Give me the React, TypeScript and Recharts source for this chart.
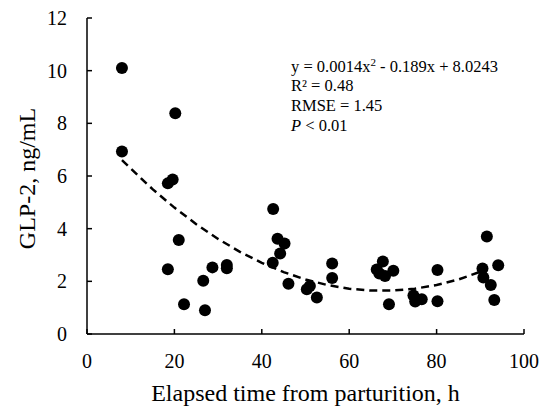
import { Scatter, ScatterChart, XAxis, YAxis } from "recharts";

const serif = '"Liberation Serif", "Times New Roman", serif';

// measured GLP-2 concentrations
const elapsedHours = [
  8.0, 20.2, 8.0, 18.5, 19.6, 42.6, 21.0, 18.5, 22.2, 26.6, 27.0, 28.7, 32.0, 32.0,
  42.5, 43.6, 45.2, 44.2, 46.1, 50.3, 51.0, 52.6, 56.1, 56.1, 67.7, 66.3, 66.9, 68.2,
  70.1, 69.1, 74.7, 75.1, 76.6, 80.2, 80.2, 91.5, 90.5, 90.7, 92.4, 94.1, 93.2,
];
const glp2 = [
  10.1, 8.38, 6.93, 5.72, 5.87, 4.75, 3.57, 2.46, 1.13, 2.02, 0.9, 2.53, 2.62, 2.5,
  2.71, 3.62, 3.44, 3.06, 1.91, 1.7, 1.82, 1.39, 2.68, 2.13, 2.75, 2.45, 2.3, 2.2,
  2.4, 1.13, 1.46, 1.23, 1.32, 2.43, 1.24, 3.7, 2.49, 2.15, 1.86, 2.61, 1.29,
];

// quadratic fit
const fitHours = [8, 15, 20, 25, 30, 35, 40, 45, 50, 55, 60, 65, 70, 75, 80, 85, 91];
const fitValues = [6.6, 5.5, 4.8, 4.17, 3.61, 3.12, 2.7, 2.35, 2.07, 1.86, 1.72, 1.65, 1.65, 1.72, 1.86, 2.07, 2.42];

const xTicks = [0, 20, 40, 60, 80, 100];
const yTicks = [0, 2, 4, 6, 8, 10, 12];

const points = elapsedHours.map((x, i) => ({ x, y: glp2[i] }));
const fit = fitHours.map((x, i) => ({ x, y: fitValues[i] }));

function Dot(props: any) {
  return <circle cx={props.cx} cy={props.cy} r={6} fill="#000" />;
}

function XTick({ x, y, payload }: any) {
  return (
    <text x={x} y={y + 14} textAnchor="middle" fontSize={20} fontFamily={serif} fill="#000">
      {payload.value}
    </text>
  );
}

function YTick({ x, y, payload }: any) {
  return (
    <text x={x} y={y + 7} textAnchor="end" fontSize={20} fontFamily={serif} fill="#000">
      {payload.value}
    </text>
  );
}

function App() {
  return (
    <div style={{ position: "absolute", left: 0, top: 0, width: 549, height: 408, background: "#fff" }}>
      <ScatterChart width={549} height={408} margin={{ top: 18, right: 25, bottom: 0, left: 0 }}>
        <XAxis
          type="number"
          dataKey="x"
          domain={[0, 100]}
          ticks={xTicks}
          height={74}
          tick={<XTick />}
          tickSize={-5}
          tickMargin={25}
          axisLine={{ stroke: "#000", strokeWidth: 1.5 }}
          tickLine={{ stroke: "#000", strokeWidth: 1.5 }}
          label={() => (
            <text x={305.5} y={401} textAnchor="middle" fontSize={24} fontFamily={serif} fill="#000">
              Elapsed time from parturition, h
            </text>
          )}
        />
        <YAxis
          type="number"
          dataKey="y"
          domain={[0, 12]}
          ticks={yTicks}
          width={87}
          tick={<YTick />}
          tickSize={-5}
          tickMargin={25}
          axisLine={{ stroke: "#000", strokeWidth: 1.5 }}
          tickLine={{ stroke: "#000", strokeWidth: 1.5 }}
          label={() => (
            <text
              x={35}
              y={178.5}
              transform="rotate(-90, 35, 178.5)"
              textAnchor="middle"
              fontSize={24}
              fontFamily={serif}
              fill="#000"
            >
              GLP-2, ng/mL
            </text>
          )}
        />
        <Scatter
          data={fit}
          shape={() => <g />}
          line={{ stroke: "#000", strokeWidth: 2.5, strokeDasharray: "8 5" }}
          lineType="joint"
          isAnimationActive={false}
        />
        <Scatter data={points} shape={Dot} isAnimationActive={false} />
      </ScatterChart>
      <svg width={549} height={408} style={{ position: "absolute", left: 0, top: 0, pointerEvents: "none" }}>
        <g fontFamily={serif} fontSize={16.5} fill="#000">
          <text x={291} y={72}>
            y = 0.0014x
            <tspan fontSize={11} dy={-6}>2</tspan>
            <tspan dy={6}> - 0.189x + 8.0243</tspan>
          </text>
          <text x={291} y={91}>R² = 0.48</text>
          <text x={291} y={111}>RMSE = 1.45</text>
          <text x={291} y={131}>
            <tspan fontStyle="italic">P</tspan> &lt; 0.01
          </text>
        </g>
      </svg>
    </div>
  );
}

export default App;
